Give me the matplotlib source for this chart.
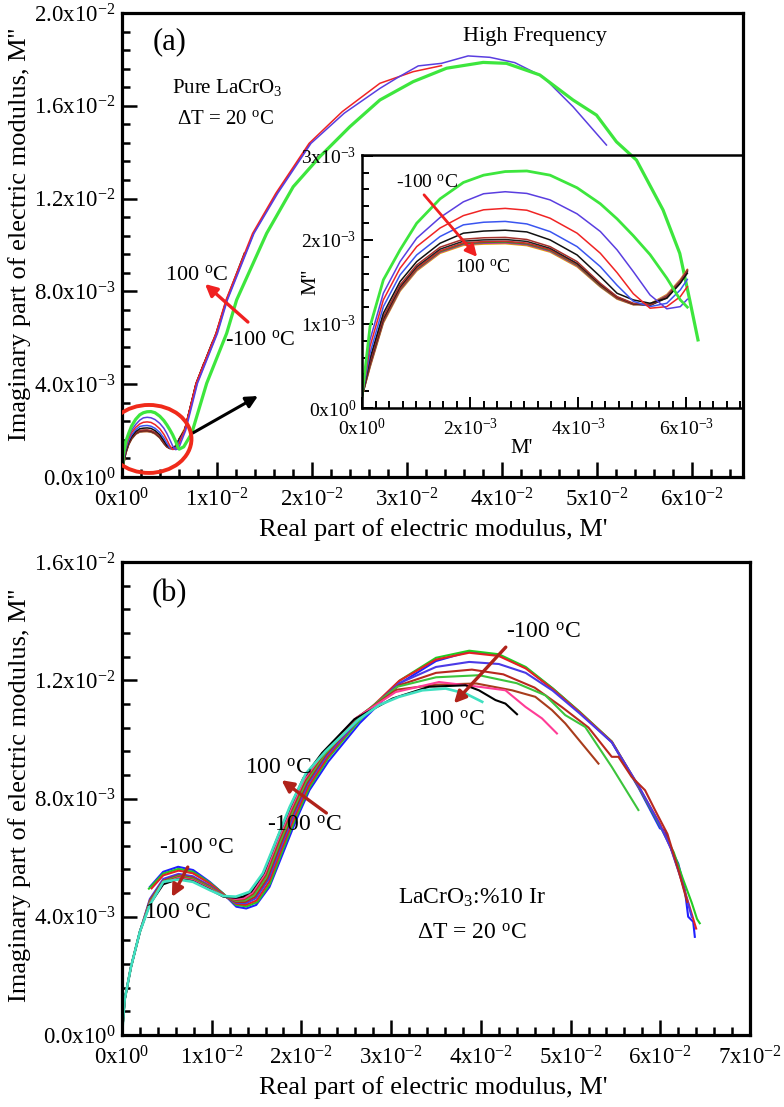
import numpy as np
import matplotlib
matplotlib.use("Agg")
import matplotlib.pyplot as plt
from matplotlib.patches import Ellipse
from matplotlib.ticker import MultipleLocator

plt.rcParams['font.family'] = ['Liberation Serif', 'DejaVu Serif']
plt.rcParams['mathtext.fontset'] = 'custom'
plt.rcParams['mathtext.rm'] = 'Liberation Serif'
plt.rcParams['mathtext.it'] = 'Liberation Serif:italic'
plt.rcParams['mathtext.bf'] = 'Liberation Serif:bold'

# ---------------- panel (a) : pure LaCrO3 ----------------
# low-M' arc (inset), both axes in units of 1e-3
ins_x = [0, 0.148, 0.395, 0.704, 1.012, 1.444, 1.876, 2.25, 2.65, 3.05,
         3.48, 3.98, 4.41, 4.72, 5.02, 5.33, 5.64, 5.89, 6.02]
ins_y = {
    'm100': [0.135, 0.968, 1.524, 1.881, 2.198, 2.488, 2.683, 2.77, 2.813, 2.82,
             2.77, 2.62, 2.43, 2.25, 2.05, 1.825, 1.545, 1.286, 1.20],
    'm80': [0.135, 0.81, 1.365, 1.742, 2.02, 2.266, 2.453, 2.549, 2.573, 2.553,
            2.476, 2.31, 2.10, 1.881, 1.623, 1.345, 1.18, 1.206, 1.294],
    'm60': [0.135, 0.73, 1.286, 1.663, 1.92, 2.141, 2.289, 2.358, 2.375, 2.353,
            2.258, 2.08, 1.841, 1.61, 1.36, 1.187, 1.206, 1.325, 1.444],
    'm40': [0.135, 0.651, 1.206, 1.583, 1.821, 2.04, 2.179, 2.21, 2.22, 2.19,
            2.099, 1.92, 1.682, 1.46, 1.27, 1.206, 1.246, 1.405, 1.53],
    'm20': [0.135, 0.59, 1.127, 1.504, 1.742, 1.96, 2.08, 2.105, 2.115, 2.095,
            2.0, 1.821, 1.563, 1.365, 1.286, 1.246, 1.306, 1.484, 1.603],
    'p0': [0.135, 0.551, 1.087, 1.464, 1.702, 1.913, 2.008, 2.025, 2.03, 2.005,
           1.92, 1.742, 1.484, 1.325, 1.246, 1.226, 1.325, 1.504, 1.643],
    'p20': [0.135, 0.53, 1.06, 1.44, 1.68, 1.89, 1.985, 2.0, 2.005, 1.982,
            1.90, 1.72, 1.47, 1.32, 1.24, 1.22, 1.31, 1.49, 1.63],
    'p40': [0.135, 0.51, 1.04, 1.42, 1.66, 1.87, 1.965, 1.98, 1.985, 1.962,
            1.885, 1.71, 1.46, 1.31, 1.235, 1.225, 1.32, 1.50, 1.62],
    'p60': [0.135, 0.50, 1.03, 1.41, 1.65, 1.86, 1.955, 1.97, 1.975, 1.952,
            1.875, 1.70, 1.45, 1.305, 1.232, 1.23, 1.33, 1.51, 1.63],
    'p80': [0.135, 0.49, 1.02, 1.40, 1.64, 1.85, 1.945, 1.96, 1.965, 1.942,
            1.865, 1.69, 1.445, 1.30, 1.23, 1.235, 1.34, 1.52, 1.64],
    'p100': [0.135, 0.48, 1.01, 1.39, 1.63, 1.84, 1.935, 1.95, 1.955, 1.932,
             1.855, 1.68, 1.44, 1.295, 1.228, 1.24, 1.35, 1.53, 1.65],
}
# high-frequency continuation in the main plot, units of 1e-2
rise_x = {
    'm100': [0.65, 0.734, 0.892, 1.102, 1.207, 1.523, 1.803, 2.084, 2.40, 2.716,
             3.066, 3.418, 3.803, 4.049, 4.40, 4.75, 4.997, 5.207, 5.418, 5.698,
             5.874, 5.979, 6.066],
    'm80': [0.67, 0.795, 1.005, 1.11, 1.39, 1.64, 1.99, 2.34, 2.716, 2.892,
            3.12, 3.365, 3.645, 3.874, 4.137, 4.435, 4.75, 5.102],
    'm60': [0.66, 0.78, 0.99, 1.095, 1.375, 1.62, 1.97, 2.32, 2.716, 3.066, 3.365],
    'm40': [0.665, 0.79, 1.0, 1.105, 1.385, 1.63, 1.98],
    'm20': [0.66, 0.78, 0.99, 1.10, 1.29],
    'p0': [0.66, 0.78, 0.99, 1.10],
    'p20': [0.66, 0.78, 0.95],
    'p40': [0.66, 0.78, 0.86],
    'p60': [0.66, 0.78],
    'p80': [0.66, 0.72],
    'p100': [0.66],
}
rise_y = {
    'm100': [0.13, 0.188, 0.404, 0.619, 0.763, 1.05, 1.251, 1.381, 1.51, 1.625,
             1.704, 1.762, 1.787, 1.783, 1.733, 1.625, 1.56, 1.445, 1.366, 1.151,
             0.964, 0.763, 0.591],
    'm80': [0.20, 0.404, 0.619, 0.763, 1.05, 1.223, 1.438, 1.568, 1.675, 1.719,
            1.772, 1.783, 1.815, 1.809, 1.786, 1.725, 1.596, 1.431],
    'm60': [0.203, 0.404, 0.619, 0.763, 1.05, 1.223, 1.438, 1.575, 1.697, 1.747, 1.773],
    'm40': [0.203, 0.404, 0.619, 0.763, 1.05, 1.223, 1.438],
    'm20': [0.203, 0.404, 0.619, 0.763, 0.966],
    'p0': [0.20, 0.40, 0.615, 0.76],
    'p20': [0.20, 0.40, 0.58],
    'p40': [0.20, 0.40, 0.49],
    'p60': [0.20, 0.40],
    'p80': [0.20, 0.30],
    'p100': [0.21],
}
a_colors = {'m100': '#3de63d', 'm80': '#5a3ee0', 'm60': '#f02424', 'm40': '#3a55f0',
            'm20': '#111111', 'p0': '#a5302a', 'p20': '#222222', 'p40': '#d02828',
            'p60': '#3a8a20', 'p80': '#b030b0', 'p100': '#e8a800'}
a_order = ['p100', 'p80', 'p60', 'p40', 'p20', 'p0', 'm20', 'm40', 'm60', 'm80', 'm100']

# ---------------- panel (b) : LaCrO3:%10 Ir, units of 1e-2 ----------------
b_x = {
    'blue': [0.311, 0.459, 0.626, 0.793, 0.978, 1.126, 1.274, 1.385, 1.496, 1.644,
             1.793, 1.941, 2.089, 2.30, 2.65, 3.10, 3.50, 3.87, 4.20, 4.50, 4.80,
             5.10, 5.46, 5.76, 5.996, 6.052, 6.126, 6.2, 6.274, 6.311, 6.367, 6.385],
    'green': [0.30, 0.46, 0.63, 0.79, 0.98, 1.13, 1.27, 1.39, 1.51, 1.65, 1.79, 1.94,
              2.09, 2.30, 2.65, 3.10, 3.50, 3.87, 4.20, 4.50, 4.80, 5.10, 5.46, 5.76,
              6.00, 6.15, 6.25, 6.35, 6.41, 6.44],
    'red': [0.33, 0.46, 0.63, 0.79, 0.98, 1.13, 1.27, 1.38, 1.50, 1.64, 1.78, 1.93,
            2.08, 2.29, 2.64, 3.09, 3.50, 3.87, 4.20, 4.50, 4.80, 5.10, 5.46, 5.76,
            6.00, 6.12, 6.22, 6.32, 6.40],
    'violet': [0, 0.03, 0.10, 0.20, 0.31, 0.46, 0.63, 0.79, 0.98, 1.13, 1.27, 1.38,
               1.49, 1.63, 1.77, 1.92, 2.07, 2.28, 2.64, 3.09, 3.50, 3.87, 4.20, 4.50,
               4.80, 5.10, 5.46, 5.76, 5.98, 6.12, 6.24, 6.35],
    'darkred': [0, 0.03, 0.10, 0.20, 0.31, 0.46, 0.63, 0.79, 0.98, 1.13, 1.27, 1.37,
                1.48, 1.62, 1.76, 1.91, 2.06, 2.27, 2.63, 3.08, 3.50, 3.90, 4.25, 4.60,
                4.90, 5.20, 5.459, 5.533, 5.681, 5.83, 5.941, 6.08, 6.20, 6.30],
    'green2': [0, 0.03, 0.10, 0.20, 0.31, 0.46, 0.63, 0.79, 0.98, 1.13, 1.27, 1.37,
               1.47, 1.61, 1.75, 1.90, 2.05, 2.26, 2.62, 3.07, 3.50, 3.98, 4.40, 4.719,
               4.941, 5.163, 5.459, 5.756],
    'brown': [0, 0.03, 0.10, 0.20, 0.31, 0.46, 0.63, 0.79, 0.98, 1.13, 1.27, 1.36,
              1.46, 1.60, 1.74, 1.89, 2.04, 2.25, 2.61, 3.06, 3.50, 3.95, 4.348, 4.607,
              4.793, 4.941, 5.126, 5.311],
    'magenta': [0, 0.03, 0.10, 0.20, 0.31, 0.46, 0.63, 0.79, 0.98, 1.13, 1.27, 1.36,
                1.45, 1.59, 1.73, 1.88, 2.03, 2.24, 2.60, 3.05, 3.533, 3.978, 4.274,
                4.497, 4.681, 4.848],
    'black': [0, 0.03, 0.10, 0.20, 0.31, 0.46, 0.63, 0.79, 0.98, 1.13, 1.27, 1.35,
              1.44, 1.58, 1.72, 1.87, 2.02, 2.23, 2.59, 3.015, 3.422, 3.83, 3.978,
              4.163, 4.274, 4.403],
    'cyan': [0, 0.03, 0.10, 0.20, 0.31, 0.46, 0.63, 0.79, 0.98, 1.13, 1.27, 1.42,
             1.57, 1.72, 1.87, 2.05, 2.27, 2.64, 2.867, 3.089, 3.348, 3.607, 3.83, 4.015],
}
b_y = {
    'blue': [0.501, 0.552, 0.569, 0.558, 0.518, 0.479, 0.434, 0.428, 0.44, 0.501,
             0.614, 0.727, 0.828, 0.925, 1.055, 1.19, 1.265, 1.297, 1.285, 1.242, 1.172,
             1.092, 0.99, 0.835, 0.699, 0.693, 0.625, 0.58, 0.49, 0.40, 0.383, 0.332],
    'green': [0.495, 0.546, 0.562, 0.552, 0.515, 0.478, 0.440, 0.435, 0.450, 0.512,
              0.625, 0.738, 0.838, 0.937, 1.065, 1.200, 1.276, 1.300, 1.288, 1.245,
              1.173, 1.094, 0.993, 0.838, 0.705, 0.618, 0.530, 0.448, 0.392, 0.378],
    'red': [0.496, 0.540, 0.556, 0.547, 0.512, 0.476, 0.444, 0.440, 0.455, 0.518,
            0.630, 0.742, 0.842, 0.940, 1.068, 1.198, 1.270, 1.293, 1.282, 1.240,
            1.170, 1.092, 0.992, 0.840, 0.712, 0.630, 0.540, 0.440, 0.360],
    'violet': [0, 0.12, 0.23, 0.35, 0.46, 0.528, 0.545, 0.537, 0.505, 0.472, 0.447,
               0.446, 0.462, 0.525, 0.636, 0.748, 0.848, 0.945, 1.068, 1.190, 1.245,
               1.262, 1.255, 1.225, 1.165, 1.088, 0.990, 0.842, 0.720, 0.630, 0.520, 0.400],
    'darkred': [0, 0.12, 0.23, 0.35, 0.455, 0.522, 0.540, 0.532, 0.502, 0.471, 0.450,
                0.450, 0.467, 0.530, 0.640, 0.752, 0.852, 0.948, 1.070, 1.182, 1.225,
                1.236, 1.220, 1.175, 1.110, 1.040, 0.941, 0.941, 0.873, 0.828, 0.761,
                0.68, 0.56, 0.45],
    'green2': [0, 0.12, 0.23, 0.35, 0.45, 0.518, 0.537, 0.528, 0.500, 0.471, 0.454,
               0.455, 0.472, 0.535, 0.645, 0.756, 0.856, 0.950, 1.072, 1.178, 1.210,
               1.217, 1.190, 1.149, 1.082, 1.042, 0.907, 0.761],
    'brown': [0, 0.12, 0.23, 0.35, 0.447, 0.515, 0.534, 0.525, 0.497, 0.470, 0.457,
              0.459, 0.477, 0.540, 0.650, 0.760, 0.860, 0.952, 1.072, 1.168, 1.185,
              1.189, 1.166, 1.144, 1.099, 1.054, 0.986, 0.918],
    'magenta': [0, 0.12, 0.23, 0.35, 0.445, 0.513, 0.531, 0.523, 0.495, 0.469, 0.460,
                0.463, 0.481, 0.544, 0.654, 0.764, 0.864, 0.953, 1.070, 1.160, 1.194,
                1.178, 1.166, 1.110, 1.071, 1.020],
    'black': [0, 0.12, 0.23, 0.35, 0.442, 0.51, 0.528, 0.52, 0.492, 0.468, 0.464,
              0.468, 0.485, 0.548, 0.658, 0.768, 0.868, 0.954, 1.068, 1.138, 1.178,
              1.183, 1.166, 1.133, 1.121, 1.085],
    'cyan': [0, 0.12, 0.23, 0.35, 0.44, 0.518, 0.526, 0.518, 0.49, 0.47, 0.468, 0.484,
             0.547, 0.659, 0.772, 0.885, 0.96, 1.068, 1.116, 1.144, 1.166, 1.172, 1.155,
             1.127],
}
b_colors = {'blue': '#2020ff', 'green': '#22cc22', 'red': '#e42222', 'violet': '#4a3ae6',
            'darkred': '#b8281e', 'green2': '#3cc43c', 'brown': '#a83c1c',
            'magenta': '#ff3c96', 'black': '#000000', 'cyan': '#40e0c0'}

# ticks
a_xticks = [0, 0.01, 0.02, 0.03, 0.04, 0.05, 0.06]
a_xlabels = ['0x10$^{\\mathregular{0}}$'] + ['%dx10$^{\\mathregular{-2}}$' % i for i in range(1, 7)]
a_yticks = [0, 0.004, 0.008, 0.012, 0.016, 0.020]
a_ylabels = ['0.0x10$^{\\mathregular{0}}$', '4.0x10$^{\\mathregular{-3}}$', '8.0x10$^{\\mathregular{-3}}$',
             '1.2x10$^{\\mathregular{-2}}$', '1.6x10$^{\\mathregular{-2}}$', '2.0x10$^{\\mathregular{-2}}$']
ins_xticks = [0, 0.002, 0.004, 0.006]
ins_xlabels = ['0x10$^{\\mathregular{0}}$', '2x10$^{\\mathregular{-3}}$', '4x10$^{\\mathregular{-3}}$',
               '6x10$^{\\mathregular{-3}}$']
ins_yticks = [0, 0.001, 0.002, 0.003]
ins_ylabels = ['0x10$^{\\mathregular{0}}$', '1x10$^{\\mathregular{-3}}$', '2x10$^{\\mathregular{-3}}$',
               '3x10$^{\\mathregular{-3}}$']
b_xticks = [0, 0.01, 0.02, 0.03, 0.04, 0.05, 0.06, 0.07]
b_xlabels = ['0x10$^{\\mathregular{0}}$'] + ['%dx10$^{\\mathregular{-2}}$' % i for i in range(1, 8)]
b_yticks = [0, 0.004, 0.008, 0.012, 0.016]
b_ylabels = a_ylabels[:5]

DEG = '$^{\\mathregular{o}}$C'
AR = '#f02020'
BR = '#b0221a'


def style(ax, fs, maj, mnr, lw=2.3, pad=5):
    for s in ax.spines.values():
        s.set_linewidth(lw)
    ax.tick_params(which='both', direction='in', top=False, right=False,
                   width=1.8, labelsize=fs)
    ax.tick_params(axis='x', pad=pad + 3)
    ax.tick_params(axis='y', pad=pad)
    ax.tick_params(which='major', length=maj)
    ax.tick_params(which='minor', length=mnr)


def arrow(ax, start, end, color, lw=2.4):
    ax.annotate('', xy=end, xytext=start,
                arrowprops=dict(arrowstyle='-|>,head_length=0.7,head_width=0.35',
                                color=color, lw=lw, shrinkA=0, shrinkB=0))


fig = plt.figure(figsize=(7.84, 11.07), dpi=100)
W, H = 784.0, 1107.0
axa = fig.add_axes([122 / W, 1 - 477 / H, (743 - 122) / W, (477 - 13) / H])
axb = fig.add_axes([122 / W, 1 - 1035 / H, (750 - 122) / W, (1035 - 562) / H])
ins = fig.add_axes([362 / W, 1 - 408 / H, (743 - 362) / W, (408 - 155) / H])
ins.patch.set_alpha(0)

# ---- panel (a) main
for k in a_order:
    xs = np.concatenate([np.array(ins_x) * 1e-3, np.array(rise_x[k]) * 1e-2])
    ys = np.concatenate([np.array(ins_y[k]) * 1e-3, np.array(rise_y[k]) * 1e-2])
    axa.plot(xs, ys, color=a_colors[k], lw=2.3 if k == 'm100' else 1.1)
axa.set_xlim(0, 0.0654)
axa.set_ylim(0, 0.020)
axa.set_xticks(a_xticks)
axa.set_xticklabels(a_xlabels)
axa.set_yticks(a_yticks)
axa.set_yticklabels(a_ylabels)
axa.xaxis.set_minor_locator(MultipleLocator(0.002))
axa.yaxis.set_minor_locator(MultipleLocator(0.0008))
style(axa, 16.5, 11, 6)
axa.add_patch(Ellipse((0.00284, 0.00164), 0.00895, 0.00293, fill=False,
                      ec='#f02a1a', lw=2.8, zorder=5))
arrow(axa, (0.00747, 0.0019), (0.01432, 0.00349), 'black', lw=2.2)
arrow(axa, (0.01326, 0.00668), (0.00874, 0.00832), AR)
axa.text(0.00789, 0.00871, '100 ' + DEG, fontsize=16, ha='center', va='center')
axa.text(0.01453, 0.00591, '-100 ' + DEG, fontsize=16, ha='center', va='center')
axa.text(0.00505, 0.01875, '(a)', fontsize=22, ha='center', va='center')
axa.text(0.01105, 0.01677, 'Pure LaCrO$_{\\mathregular{3}}$', fontsize=15, ha='center', va='center')
axa.text(0.01095, 0.01539, '$\\mathregular{\\Delta}$T = 20 ' + DEG, fontsize=15, ha='center', va='center')
axa.text(0.04347, 0.01897, 'High Frequency', fontsize=16, ha='center', va='center')

# ---- inset
for k in a_order:
    ins.plot(np.array(ins_x) * 1e-3, np.array(ins_y[k]) * 1e-3, color=a_colors[k],
             lw=2.0 if k == 'm100' else 1.1)
ins.set_xlim(0, 0.00705)
ins.set_ylim(0, 0.00301)
ins.set_xticks(ins_xticks)
ins.set_xticklabels(ins_xlabels)
ins.set_yticks(ins_yticks)
ins.set_yticklabels(ins_ylabels)
ins.xaxis.set_minor_locator(MultipleLocator(0.00025))
ins.yaxis.set_minor_locator(MultipleLocator(0.0002))
style(ins, 14, 8, 5, lw=1.8, pad=4)
ins.tick_params(which='both', width=1.4)
arrow(ins, (0.001148, 0.002536), (0.00213, 0.001798), AR, lw=2.0)
ins.text(0.001204, 0.002679, '-100 ' + DEG, fontsize=14, ha='center', va='center')
ins.text(0.00224, 0.001667, '100 ' + DEG, fontsize=14, ha='center', va='center')
ins.text(-0.135, 0.5, "M''", transform=ins.transAxes, rotation=90, fontsize=15,
         ha='center', va='center')
ins.text(0.42, -0.16, "M'", transform=ins.transAxes, fontsize=15, ha='center', va='center')

# ---- panel (b)
for k in b_x:
    axb.plot(np.array(b_x[k]) * 1e-2, np.array(b_y[k]) * 1e-2, color=b_colors[k],
             lw=1.9 if k == 'cyan' else 1.5)
axb.set_xlim(0, 0.0698)
axb.set_ylim(0, 0.016)
axb.set_xticks(b_xticks)
axb.set_xticklabels(b_xlabels)
axb.set_yticks(b_yticks)
axb.set_yticklabels(b_ylabels)
axb.xaxis.set_minor_locator(MultipleLocator(0.002))
axb.yaxis.set_minor_locator(MultipleLocator(0.0008))
style(axb, 16.5, 11, 6)
axb.text(0.00533, 0.01494, '(b)', fontsize=22, ha='center', va='center')
axb.text(0.047, 0.01362, '-100 ' + DEG, fontsize=17, ha='center', va='center')
arrow(axb, (0.04278, 0.01312), (0.037, 0.01122), BR)
axb.text(0.03667, 0.01065, '100 ' + DEG, fontsize=17, ha='center', va='center')
axb.text(0.01744, 0.00903, '100 ' + DEG, fontsize=17, ha='center', va='center')
arrow(axb, (0.02278, 0.00751), (0.01778, 0.00862), BR)
axb.text(0.02033, 0.0071, '-100 ' + DEG, fontsize=17, ha='center', va='center')
axb.text(0.00833, 0.00632, '-100 ' + DEG, fontsize=17, ha='center', va='center')
arrow(axb, (0.00733, 0.00568), (0.00556, 0.00467), BR)
axb.text(0.00622, 0.00412, '100 ' + DEG, fontsize=17, ha='center', va='center')
axb.text(0.039, 0.00463, 'LaCrO$_{\\mathregular{3}}$:%10 Ir', fontsize=17, ha='center', va='center')
axb.text(0.039, 0.00345, '$\\mathregular{\\Delta}$T = 20 ' + DEG, fontsize=17, ha='center', va='center')

# axis titles
fig.text(20 / W, 1 - 234 / H, "Imaginary part of electric modulus, M''", rotation=90,
         fontsize=19, ha='center', va='center')
fig.text(433 / W, 1 - 530 / H, "Real part of electric modulus, M'", fontsize=19,
         ha='center', va='center')
fig.text(20 / W, 1 - 795 / H, "Imaginary part of electric modulus, M''", rotation=90,
         fontsize=19, ha='center', va='center')
fig.text(433 / W, 1 - 1088 / H, "Real part of electric modulus, M'", fontsize=19,
         ha='center', va='center')

fig.savefig('out.png', dpi=100)
